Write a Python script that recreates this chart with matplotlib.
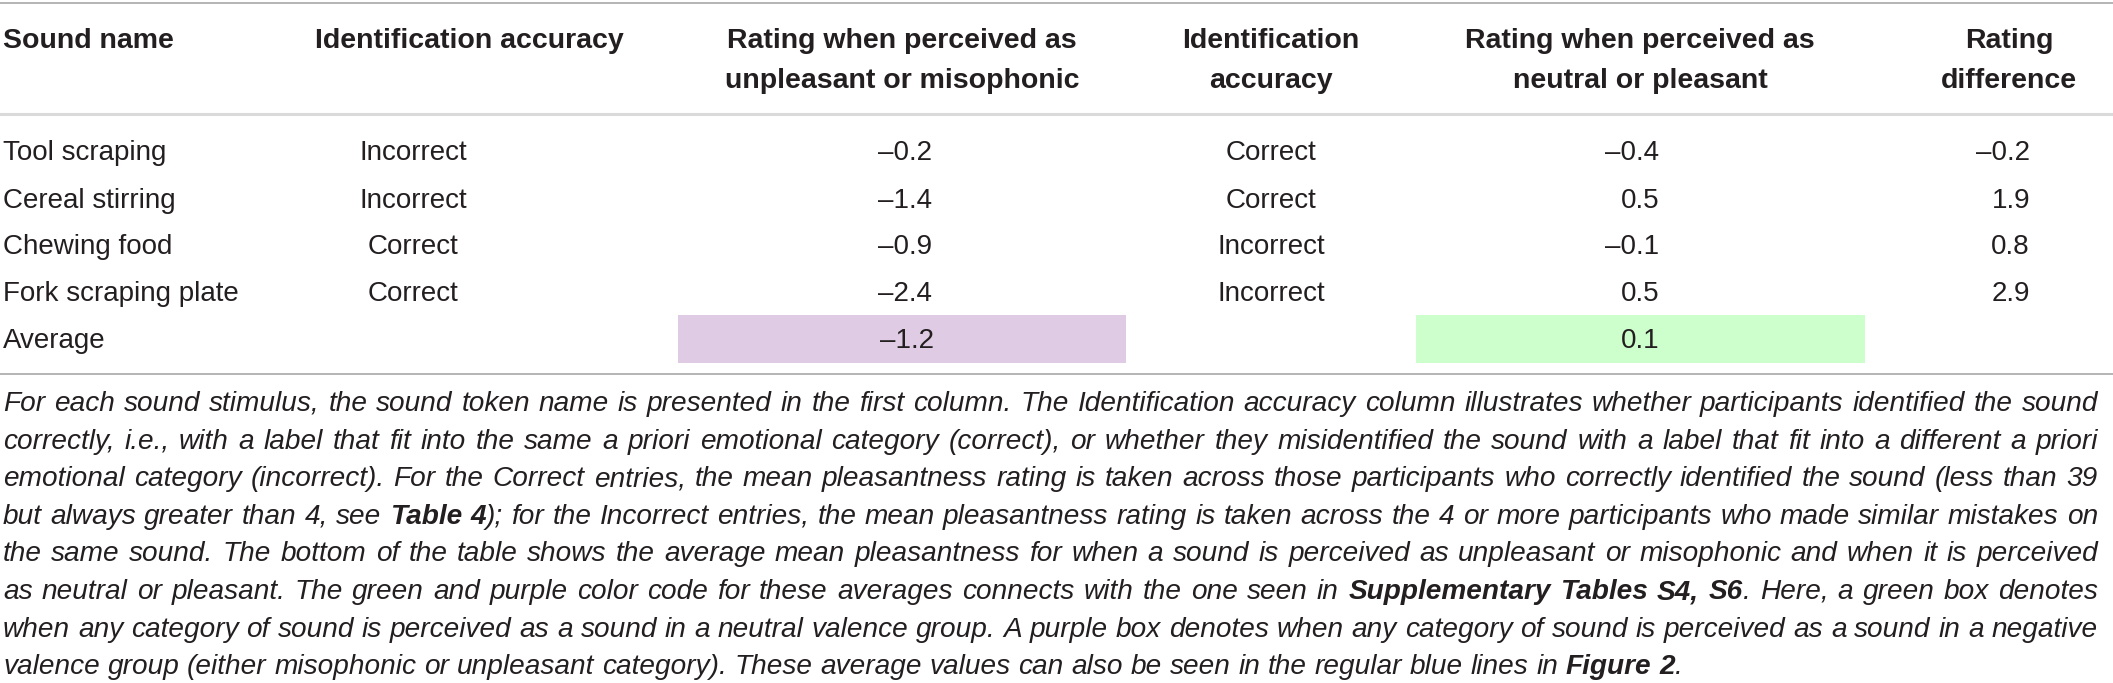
import matplotlib
matplotlib.use('Agg')
import matplotlib.pyplot as plt
from matplotlib.patches import Rectangle

# Table contents
sound_names = ['Tool scraping', 'Cereal stirring', 'Chewing food', 'Fork scraping plate']
accuracy_neg = ['Incorrect', 'Incorrect', 'Correct', 'Correct']
rating_neg = [-0.2, -1.4, -0.9, -2.4]
accuracy_pos = ['Correct', 'Correct', 'Incorrect', 'Incorrect']
rating_pos = [-0.4, 0.5, -0.1, 0.5]
rating_diff = [-0.2, 1.9, 0.8, 2.9]
average_label = 'Average'
average_neg = -1.2
average_pos = 0.1

headers = [
    ['Sound name'],
    ['Identification accuracy'],
    ['Rating when perceived as', 'unpleasant or misophonic'],
    ['Identification', 'accuracy'],
    ['Rating when perceived as', 'neutral or pleasant'],
    ['Rating', 'difference'],
]

# caption lines, **bold** marks the bold references
caption = [
    'For each sound stimulus, the sound token name is presented in the first column. The Identification accuracy column illustrates whether participants identified the sound',
    'correctly, i.e., with a label that fit into the same a priori emotional category (correct), or whether they misidentified the sound with a label that fit into a different a priori',
    'emotional category (incorrect). For the Correct entries, the mean pleasantness rating is taken across those participants who correctly identified the sound (less than 39',
    'but always greater than 4, see **Table 4**); for the Incorrect entries, the mean pleasantness rating is taken across the 4 or more participants who made similar mistakes on',
    'the same sound. The bottom of the table shows the average mean pleasantness for when a sound is perceived as unpleasant or misophonic and when it is perceived',
    'as neutral or pleasant. The green and purple color code for these averages connects with the one seen in **Supplementary Tables S4, S6**. Here, a green box denotes',
    'when any category of sound is perceived as a sound in a neutral valence group. A purple box denotes when any category of sound is perceived as a sound in a negative',
    'valence group (either misophonic or unpleasant category). These average values can also be seen in the regular blue lines in **Figure 2**.',
]

W, H = 2113, 683
TEXT = '#231f20'
FONT = 'Liberation Sans'

fig = plt.figure(figsize=(W / 100, H / 100), dpi=100)
ax = fig.add_axes([0, 0, 1, 1])
ax.set_xlim(0, W)
ax.set_ylim(H, 0)
ax.axis('off')


def fmt(v):
    return f'{v:.1f}'.replace('-', '\u2013')


# rules
ax.axhline(3, color='#b4b4b4', lw=1.4)
ax.axhline(114, color='#dadada', lw=2.2)
ax.axhline(374, color='#b4b4b4', lw=1.4)

# header
head_x = [3, 315, 902, 1271, 1640, 2009]
head_ha = ['left', 'left', 'center', 'center', 'center', 'center']
head_base = [48.5, 88]
for col, lines in enumerate(headers):
    for i, line in enumerate(lines):
        ax.text(head_x[col], head_base[i], line, ha=head_ha[col], va='baseline',
                fontsize=20.5, fontweight='bold', family=FONT, color=TEXT)

# body rows
row_base = [160.5, 207.5, 254.5, 301, 348]
body = dict(fontsize=20, family=FONT, color=TEXT, va='baseline')
for i in range(len(sound_names)):
    y = row_base[i]
    ax.text(3, y, sound_names[i], ha='left', **body)
    ax.text(413, y, accuracy_neg[i], ha='center', **body)
    ax.text(932, y, fmt(rating_neg[i]), ha='right', **body)
    ax.text(1271, y, accuracy_pos[i], ha='center', **body)
    ax.text(1659, y, fmt(rating_pos[i]), ha='right', **body)
    ax.text(2030, y, fmt(rating_diff[i]), ha='right', **body)

# average row with coloured boxes
ax.add_patch(Rectangle((678, 315), 448, 48, facecolor='#dfcce4', edgecolor='none', zorder=0))
ax.add_patch(Rectangle((1416, 315), 449, 48, facecolor='#ccffcc', edgecolor='none', zorder=0))
ya = row_base[4]
ax.text(3, ya, average_label, ha='left', **body)
ax.text(934, ya, fmt(average_neg), ha='right', **body)
ax.text(1659, ya, fmt(average_pos), ha='right', **body)

# caption, justified word by word
renderer = fig.canvas.get_renderer()
cap_left, cap_right = 3, 2098
cap_base0, cap_step = 411, 37.6


def cap_style(bold, size):
    return dict(fontsize=size, family=FONT, style='italic', color=TEXT,
                fontweight='bold' if bold else 'normal', va='baseline', ha='left')


def measure(s, bold, size):
    t = ax.text(0, 0, s, **cap_style(bold, size))
    w = t.get_window_extent(renderer).width
    t.remove()
    return w


def split_words(line):
    parts = line.split('**')
    words = [[]]
    for k, part in enumerate(parts):
        bold = k % 2 == 1
        pieces = part.split(' ')
        for j, p in enumerate(pieces):
            if j > 0:
                words.append([])
            if p:
                words[-1].append((p, bold))
    return [w for w in words if w]


def natural_width(line, size):
    sp = measure('a a', False, size) - measure('aa', False, size)
    words = split_words(line)
    return sum(measure(s, b, size) for w in words for s, b in w) + sp * (len(words) - 1)


# pick the type size so the widest full line just fits the measure
base_size = 17.4
widest = max(natural_width(l, base_size) for l in caption[:-1])
cap_size = base_size * (cap_right - cap_left) * 0.995 / widest

space_w = measure('a a', False, cap_size) - measure('aa', False, cap_size)
for li, line in enumerate(caption):
    words = split_words(line)
    widths = [[measure(s, b, cap_size) for s, b in w] for w in words]
    total = sum(sum(ws) for ws in widths)
    if li < len(caption) - 1:
        gap = (cap_right - cap_left - total) / (len(words) - 1)
    else:
        gap = space_w
    x = cap_left
    y = cap_base0 + li * cap_step
    for w, ws in zip(words, widths):
        for (s, b), sw in zip(w, ws):
            ax.text(x, y, s, **cap_style(b, cap_size))
            x += sw
        x += gap

fig.savefig('out.png', dpi=100)
